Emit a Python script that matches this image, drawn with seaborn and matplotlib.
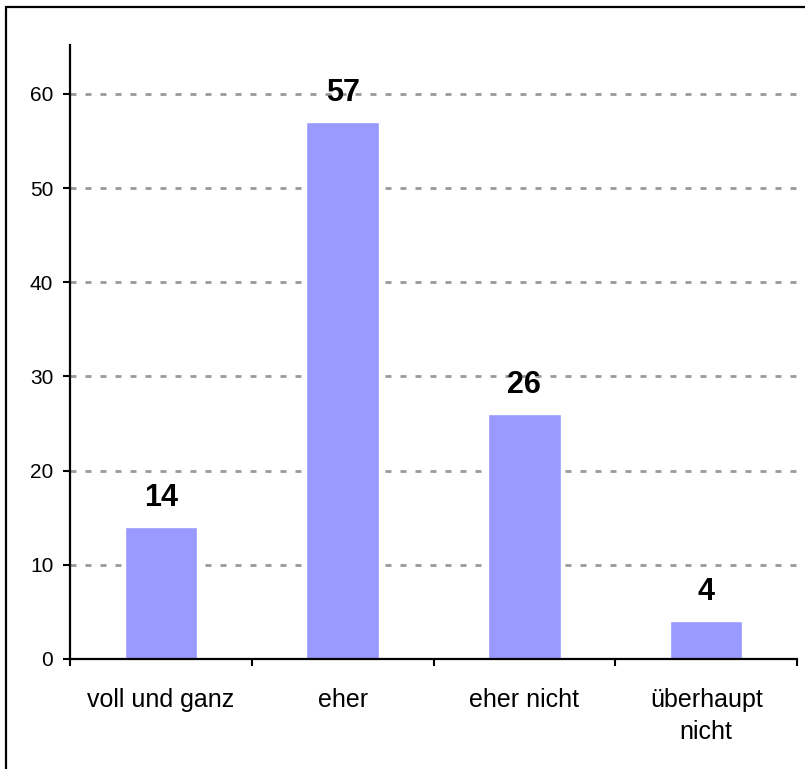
import matplotlib
matplotlib.use("Agg")
import matplotlib.pyplot as plt
import seaborn as sns
import pandas as pd
from matplotlib.patches import Rectangle

antworten = ["voll und ganz", "eher", "eher nicht", "überhaupt\nnicht"]
anzahl = [14, 57, 26, 4]
y_ticks = [0, 10, 20, 30, 40, 50, 60]

df = pd.DataFrame({"antwort": antworten, "anzahl": anzahl})

sns.set_style("white")
plt.rcParams['font.family'] = ['Liberation Sans', 'DejaVu Sans']
plt.rcParams['text.color'] = 'black'
plt.rcParams['xtick.color'] = 'black'
plt.rcParams['ytick.color'] = 'black'

fig = plt.figure(figsize=(8.05, 7.69), dpi=100)
ax = fig.add_axes([70 / 805, 1 - 659 / 769, 727 / 805, 614 / 769])

sns.barplot(data=df, x="antwort", y="anzahl", color="#9999FF", width=0.4,
            saturation=1, ax=ax, zorder=3)

ax.set_xlim(-0.5, 3.5)
ax.set_ylim(0, 65.2)
ax.set_yticks(y_ticks)
ax.set_xlabel("")
ax.set_ylabel("")

# gitterlinien gestrichelt, ohne 0
for t in y_ticks[1:]:
    ax.axhline(t, color="#999999", lw=2, ls=(0, (2.15, 3.25)), zorder=1)

# kategorien als minor ticks, grenzen als major ticks
ax.set_xticks([-0.5, 0.5, 1.5, 2.5, 3.5])
ax.set_xticklabels([])
ax.set_xticks(range(len(antworten)), minor=True)
ax.set_xticklabels(antworten, minor=True, fontsize=18, linespacing=1.4)
ax.tick_params(axis="x", which="major", direction="out", length=5, width=1.5,
               bottom=True)
ax.tick_params(axis="x", which="minor", length=0, pad=21)
ax.tick_params(axis="y", direction="out", length=5, width=1.5, left=True,
               labelsize=15, pad=7)

for s in ["top", "right"]:
    ax.spines[s].set_visible(False)
for s in ["left", "bottom"]:
    ax.spines[s].set_linewidth(1.6)
    ax.spines[s].set_color("black")
    ax.spines[s].set_zorder(4)

for i, v in enumerate(anzahl):
    ax.annotate(str(v), (i, v), xytext=(0, 15), textcoords="offset points",
                ha="center", va="baseline", fontsize=22, fontweight="bold",
                zorder=5)

# rahmen um das diagramm
fig.patches.append(Rectangle((6 / 805, -0.1), 1.1, 0.1 + 1 - 7 / 769,
                             transform=fig.transFigure, fill=False,
                             edgecolor="black", lw=1.6, clip_on=False))

fig.savefig("out.png", dpi=100)
